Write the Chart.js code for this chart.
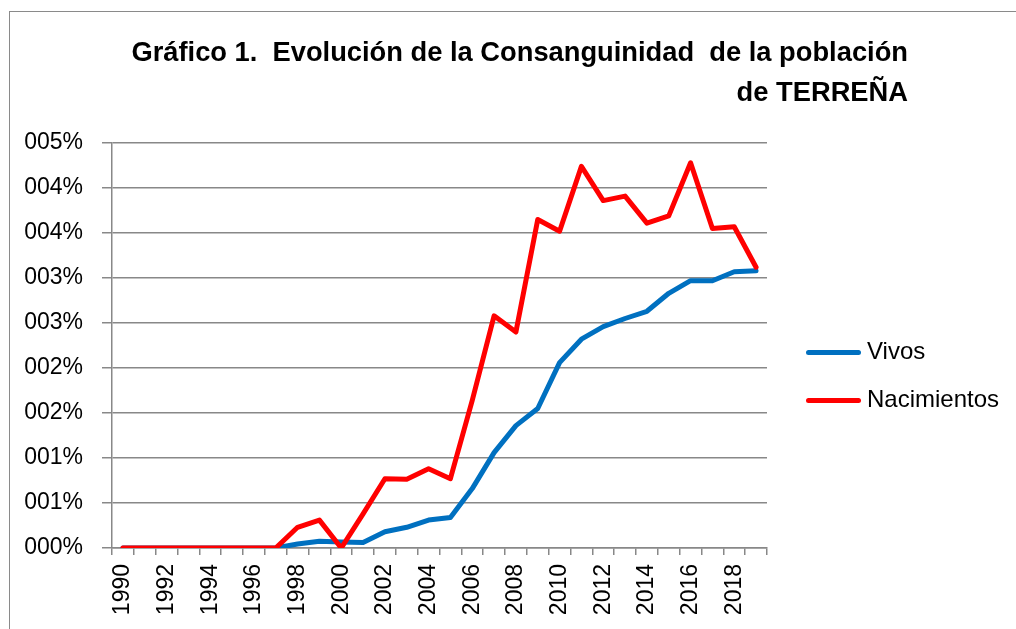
<!DOCTYPE html>
<html>
<head>
    <meta charset="utf-8">
    <script src="https://cdn.jsdelivr.net/npm/chart.js@4.4.0/dist/chart.umd.min.js"></script>
    <style>
        body {
            margin: 0;
            background: #fff;
            font-family: 'Liberation Sans', Arial, sans-serif;
        }
        #wrap {
            position: relative;
            width: 1016px;
            height: 629px;
            overflow: hidden;
        }
        #frame {
            position: absolute;
            left: 9px;
            top: 11px;
            width: 1100px;
            height: 700px;
            border: 1px solid #8a8a8a;
        }
        #box {
            position: absolute;
            left: 0;
            top: 0;
            width: 1016px;
            height: 629px;
        }
        #title {
            position: absolute;
            left: 0;
            top: 32px;
            width: 908px;
            text-align: right;
            white-space: pre;
            font-family: 'Liberation Sans Narrow', 'Liberation Sans', sans-serif;
            font-weight: bold;
            font-size: 27.3px;
            line-height: 40px;
            color: #000;
        }
        .leg {
            position: absolute;
            left: 806px;
            height: 28px;
            line-height: 28px;
            font-size: 24px;
            color: #000;
            white-space: nowrap;
        }
        .leg span {
            display: inline-block;
            width: 55px;
            height: 5px;
            border-radius: 3px;
            margin-right: 6px;
            vertical-align: middle;
        }
    </style>
    <title>Consanguinidad Terreña</title>
</head>
<body>
<div id="wrap">
    <div id="frame"></div>
    <div id="box"><canvas id="myChart"></canvas></div>
    <div id="title">Gráfico 1.  Evolución de la Consanguinidad  de la población
de TERREÑA</div>
</div>
<script>
    // years on the x axis
    var years = ['1990', '1991', '1992', '1993', '1994', '1995', '1996', '1997', '1998', '1999',
        '2000', '2001', '2002', '2003', '2004', '2005', '2006', '2007', '2008', '2009',
        '2010', '2011', '2012', '2013', '2014', '2015', '2016', '2017', '2018', '2019'];

    // values in percent
    var vivos = [0, 0, 0, 0, 0, 0, 0, 0, 0.045, 0.074,
        0.067, 0.06, 0.18, 0.23, 0.31, 0.34, 0.66, 1.06, 1.36, 1.55,
        2.06, 2.32, 2.46, 2.55, 2.63, 2.83, 2.97, 2.97, 3.07, 3.08];
    var nacimientos = [0, 0, 0, 0, 0, 0, 0, 0, 0.23, 0.31,
        0, 0.38, 0.77, 0.765, 0.88, 0.77, 1.64, 2.58, 2.40, 3.65,
        3.52, 4.24, 3.86, 3.91, 3.61, 3.69, 4.28, 3.55, 3.57, 3.12];

    var seriesNames = ['Vivos', 'Nacimientos'];
    var seriesColors = ['#0070C0', '#FF0000'];
    var legendTops = [337, 385];

    var wrap = document.getElementById('wrap');
    seriesNames.forEach(function (name, i) {
        var d = document.createElement('div');
        d.className = 'leg';
        d.style.top = legendTops[i] + 'px';
        d.innerHTML = '<span style="background:' + seriesColors[i] + '"></span>' + name;
        wrap.appendChild(d);
    });

    var tickFont = { family: "'Liberation Sans', Arial, sans-serif", size: 23 };

    var ctx = document.getElementById('myChart').getContext('2d');
    var myChart = new Chart(ctx, {
        type: 'line',
        data: {
            labels: years,
            datasets: [{
                label: seriesNames[0],
                data: vivos,
                borderColor: seriesColors[0],
                borderWidth: 5,
                pointRadius: 0,
                fill: false,
                borderJoinStyle: 'round',
                borderCapStyle: 'round',
                order: 1
            }, {
                label: seriesNames[1],
                data: nacimientos,
                borderColor: seriesColors[1],
                borderWidth: 5,
                pointRadius: 0,
                fill: false,
                borderJoinStyle: 'round',
                borderCapStyle: 'round',
                order: 0
            }]
        },
        options: {
            responsive: true,
            maintainAspectRatio: false,
            animation: false,
            layout: {
                padding: { top: 143, right: 249, bottom: 0, left: 0 }
            },
            plugins: {
                legend: { display: false },
                title: { display: false },
                tooltip: { enabled: false }
            },
            scales: {
                x: {
                    offset: true,
                    grid: {
                        offset: true,
                        drawOnChartArea: false,
                        drawTicks: true,
                        tickLength: 7,
                        color: '#888',
                        lineWidth: 1.5
                    },
                    border: { color: '#888', width: 1.5 },
                    ticks: {
                        autoSkip: false,
                        minRotation: 90,
                        maxRotation: 90,
                        padding: 9,
                        color: '#000',
                        font: tickFont,
                        callback: function (v, i) {
                            return i % 2 === 0 ? this.getLabelForValue(v) : '';
                        }
                    },
                    afterFit: function (s) { s.height = 81; }
                },
                y: {
                    min: 0,
                    max: 4.5,
                    grid: {
                        color: '#888',
                        lineWidth: 1.5,
                        tickLength: 10
                    },
                    border: { color: '#888', width: 1.5 },
                    ticks: {
                        stepSize: 0.5,
                        padding: 19,
                        color: '#000',
                        font: tickFont,
                        callback: function (v) {
                            return String(Math.round(v)).padStart(3, '0') + '%';
                        }
                    },
                    afterFit: function (s) { s.width = 112; }
                }
            }
        }
    });
</script>
</body>
</html>
